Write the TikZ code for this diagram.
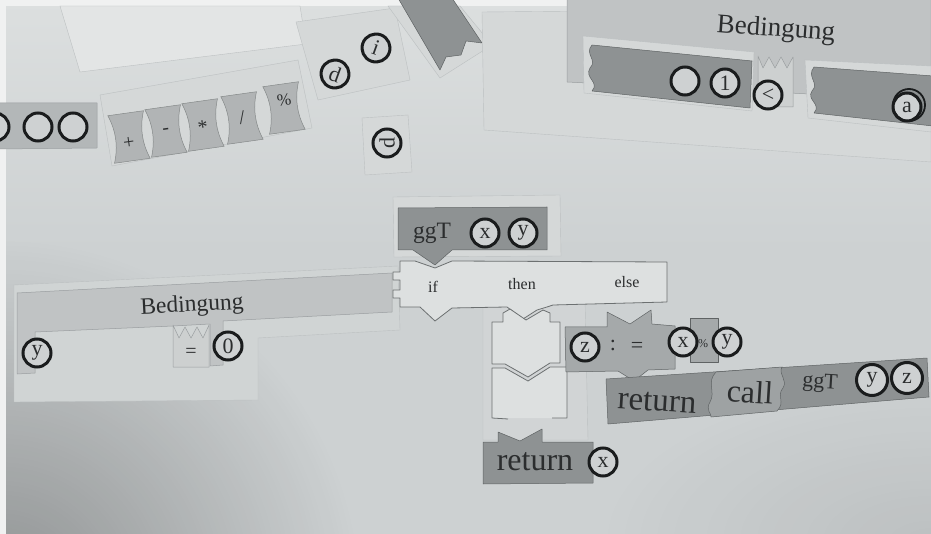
\documentclass[tikz,border=0pt]{standalone}
\usepackage{fontspec}
\setmainfont{Liberation Serif}
\usetikzlibrary{fadings}

\definecolor{bgbase}{HTML}{CDD1D2}
\definecolor{bgtop}{HTML}{DCDFDF}
\definecolor{bgedge}{HTML}{F0F1F1}
\definecolor{paperfill}{HTML}{D5D8D8}
\definecolor{paperedge}{HTML}{BCC0C1}
\definecolor{darkgrey}{HTML}{8E9293}
\definecolor{darkedge}{HTML}{5F6364}
\definecolor{midgrey}{HTML}{A5A9AA}
\definecolor{lightgrey}{HTML}{C0C3C4}
\definecolor{lightedge}{HTML}{9A9EA0}
\definecolor{cmpfill}{HTML}{CDD0D0}
\definecolor{barleft}{HTML}{B3B7B8}
\definecolor{opgrey}{HTML}{B1B4B5}
\definecolor{opedge}{HTML}{858989}
\definecolor{slotfill}{HTML}{DDE0E0}
\definecolor{slotline}{HTML}{6C7071}
\definecolor{callgrey}{HTML}{9EA2A3}
\definecolor{tokenfill}{HTML}{CED1D2}
\definecolor{tokenline}{HTML}{1A1C1D}
\definecolor{ink}{HTML}{2B2D2E}

\tikzfading[name=cornerglow, inner color=transparent!0, outer color=transparent!100]

\begin{document}
\begin{tikzpicture}[x=1pt,y=-1pt,
  token/.style={circle, draw=tokenline, line width=3pt, fill=tokenfill,
    minimum size=28pt, inner sep=0pt, text=ink, font=\fontsize{22}{22}\selectfont},
  darkpiece/.style={fill=darkgrey, draw=darkedge, line width=0.5pt, line join=round},
  midpiece/.style={fill=midgrey, draw=darkedge, line width=0.5pt, line join=round},
  lightpiece/.style={fill=lightgrey, draw=lightedge, line width=0.5pt, line join=round},
  slotbox/.style={fill=slotfill, draw=slotline, line width=0.8pt, line join=round},
  paper/.style={fill=paperfill, draw=paperedge, line width=0.4pt},
  ptext/.style={inner sep=0pt, text=ink},
  hourglass/.pic={
    \path[fill=opgrey, draw=opedge, line width=0.5pt]
      (-18,-24) -- (18,-24) .. controls (12,-8) and (12,8) .. (18,24)
      -- (-18,24) .. controls (-12,8) and (-12,-8) .. (-18,-24) -- cycle;
  },
]
\useasboundingbox (0,0) rectangle (931,534);

% ---- table surface ----
\fill[bgbase] (0,0) rectangle (931,534);
\shade[top color=bgtop, bottom color=bgbase] (0,0) rectangle (931,250);
\begin{scope}
  \clip (0,0) rectangle (931,534);
  \fill[black, opacity=0.30, path fading=cornerglow] (-360,240) rectangle (360,960);
  \fill[black, opacity=0.08, path fading=cornerglow] (600,380) rectangle (1260,700);
\end{scope}
\fill[bgedge] (0,0) rectangle (931,6);
\fill[bgedge] (0,0) rectangle (6,534);

% ---- loose paper cut-outs ----
\path[paper, fill=bgtop!80!white] (60,6) -- (300,6) -- (306,44) -- (80,72) -- cycle;
\path[paper] (100,95) -- (298,60) -- (312,128) -- (112,166) -- cycle;
\path[paper] (296,22) -- (395,8) -- (410,80) -- (318,100) -- cycle;
\path[paper] (362,118) -- (408,115) -- (412,172) -- (365,175) -- cycle;
\path[paper] (388,6) -- (460,6) -- (492,45) -- (440,78) -- cycle;
\path[paper] (482,12) -- (931,8) -- (931,162) -- (484,130) -- cycle;
\path[paper, fill=bgbase!60!paperfill] (14,285) -- (398,266) -- (400,330) -- (258,338) -- (258,400) -- (14,402) -- cycle;
\path[paper, fill=bgbase!50!paperfill] (483,300) -- (585,298) -- (588,440) -- (483,440) -- cycle;

% ---- top-left token bar ----
\path[lightpiece, fill=barleft] (-2,103) -- (97,103) -- (97,148) -- (-2,149) -- cycle;
\node[token] (tl0) at (-5,127) {};
\node[token] (tl1) at (38,127) {};
\node[token] (tl2) at (73,127) {};

% ---- operator pieces ----
\pic[rotate=8] at (129,137) {hourglass};
\pic[rotate=8] at (166,131) {hourglass};
\pic[rotate=8] at (203,125) {hourglass};
\pic[rotate=8] at (242,118) {hourglass};
\pic[rotate=8] at (284,108) {hourglass};
\node[ptext, rotate=8, font=\fontsize{20}{20}\selectfont] (opplus) at (129,143) {+};
\node[ptext, rotate=8, font=\fontsize{20}{20}\selectfont] (opminus) at (166,131) {-};
\node[ptext, rotate=8, font=\fontsize{20}{20}\selectfont] (optimes) at (203,127) {*};
\node[ptext, rotate=8, font=\fontsize{20}{20}\selectfont] (opdiv) at (242,118) {/};
\node[ptext, rotate=8, font=\fontsize{17}{17}\selectfont] (opmod) at (284,100) {\%};

% ---- single letter tokens ----
\node[token, rotate=-20] (tokd) at (335,74) {d};
\node[token, rotate=-20] (toki) at (376,48) {i};
\node[token, rotate=90] (tokp) at (387,143) {d};

% ---- dark strip at the top edge ----
\path[darkpiece] (398,-2) -- (452,-2) -- (482,43) -- (466,41) -- (461,55) -- (446,57) -- (440,70) -- cycle;

% ---- upper Bedingung block ----
\path[lightpiece] (567,-2) -- (931,-2) -- (931,100) -- (567,82) -- cycle;
\node[ptext, rotate=-4, font=\fontsize{27}{27}\selectfont] (bedtop) at (776,30) {Bedingung};
\path[paper] (583,36) -- (754,52) -- (752,111) -- (584,93) -- cycle;
\path[darkpiece] (592,45) -- (752,61) -- (750,108) -- (592,91)
  .. controls (600,82) and (584,78) .. (590,68)
  .. controls (598,60) and (584,54) .. (592,45) -- cycle;
\node[token] (tokempty) at (685,81) {};
\node[token] (tokone) at (725,83) {1};
\path[lightpiece, fill=cmpfill] (758,56) -- (763,68) -- (769,57) -- (775,68) -- (781,57)
  -- (787,68) -- (793,57) -- (793,107) -- (758,107) -- cycle;
\node[token] (toklt) at (768,95) {<};
\path[paper] (805,60) -- (931,66) -- (931,132) -- (808,118) -- cycle;
\path[darkpiece] (814,67) -- (933,76) -- (933,126) -- (814,113)
  .. controls (822,104) and (806,100) .. (812,91)
  .. controls (820,83) and (806,77) .. (814,67) -- cycle;
\node[token] (toka) at (907,107) {a};
\draw[tokenline, line width=1.8pt] (toka.center) ++(2,-2) circle[radius=16];

% ---- lower Bedingung block ----
\path[lightpiece] (17,293) -- (392,273) -- (392,312) -- (223,321) -- (223,365) -- (210,366)
  -- (210,324) -- (173,326) -- (35,332) -- (35,373) -- (17,374) -- cycle;
\node[ptext, rotate=3, font=\fontsize{23.5}{23.5}\selectfont] (bedleft) at (192,306) {Bedingung};
\path[lightpiece, fill=cmpfill] (173,325) -- (179,338) -- (185,327) -- (191,338) -- (197,327)
  -- (203,338) -- (209,325) -- (209,367) -- (173,367) -- cycle;
\node[ptext, font=\fontsize{20}{20}\selectfont] (eqsign) at (191,353) {=};
\node[token] (toky) at (37,353) {y};
\node[token] (tokzero) at (228,346) {0};

% ---- if / then / else frame ----
\path[slotbox] (400,261) -- (415,261) -- (435,268) -- (452,261) -- (667,262) -- (667,302)
  -- (553,305) -- (547,307) -- (537,310) -- (523,319) -- (507,307) -- (452,308)
  -- (435,321) -- (420,307) -- (400,307) -- (400,298) -- (393,298) -- (393,290)
  -- (400,290) -- (400,280) -- (393,280) -- (393,272) -- (400,272) -- cycle;
\node[ptext, font=\fontsize{16}{16}\selectfont] (kwif) at (433,287) {if};
\node[ptext, font=\fontsize{16}{16}\selectfont] (kwthen) at (522,284) {then};
\node[ptext, font=\fontsize{16}{16}\selectfont] (kwelse) at (627,282) {else};

% ---- function head ----
\path[paper] (393,197) -- (560,195) -- (561,256) -- (394,257) -- cycle;
\path[darkpiece] (398,208) -- (547,207) -- (547,250) -- (452,250) -- (435,265) -- (413,250)
  -- (398,250) -- cycle;
\node[ptext, font=\fontsize{23.5}{23.5}\selectfont] (ggthead) at (432,233) {ggT};
\node[token] (headx) at (485,233) {x};
\node[token] (heady) at (523,233) {y};

% ---- empty statement slots under then ----
\path[slotbox] (492,322) -- (503,322) -- (503,313) -- (510,309) -- (526,320) -- (543,310)
  -- (550,313) -- (550,322) -- (560,322) -- (560,363) -- (550,363) -- (528,377)
  -- (505,364) -- (492,364) -- cycle;
\path[fill=slotfill] (492,368) -- (505,368) -- (528,381) -- (550,367) -- (567,367)
  -- (567,418) -- (492,418) -- cycle;
\draw[slotline, line width=0.8pt, line join=round] (508,419) -- (492,418) -- (492,368)
  -- (505,368) -- (528,381) -- (550,367) -- (567,367) -- (567,418) -- (552,418);

% ---- assignment z := x % y ----
\path[midpiece] (565,327) -- (607,327) -- (607,312) -- (630,324) -- (651,310) -- (652,324)
  -- (675,326) -- (675,369) -- (648,370) -- (634,381) -- (618,371) -- (566,372) -- cycle;
\node[token] (asgz) at (585,347) {z};
\node[ptext, font=\fontsize{22}{22}\selectfont] (asgcolon) at (613,345) {:};
\node[ptext, font=\fontsize{22}{22}\selectfont] (asgeq) at (637,347) {=};
\path[midpiece] (690,318) -- (718,318) -- (718,362) -- (690,362) -- cycle;
\node[token] (asgx) at (683,342) {x};
\node[ptext, font=\fontsize{12}{12}\selectfont] (asgmod) at (703,344) {\%};
\node[token] (asgy) at (727,342) {y};

% ---- return call ggT y z ----
\path[darkpiece] (606,379) -- (927,358) -- (929,397) -- (608,424) -- cycle;
\path[fill=callgrey, draw=darkedge, line width=0.5pt]
  (716,372) .. controls (706,382) and (716,392) .. (710,402)
  .. controls (705,410) and (712,414) .. (711,417)
  -- (777,411) .. controls (786,402) and (776,396) .. (783,388)
  .. controls (788,380) and (778,374) .. (782,367) -- cycle;
\node[ptext, rotate=-3.5, font=\fontsize{33}{33}\selectfont] (retcall) at (657,402) {return};
\node[ptext, rotate=-3.5, font=\fontsize{32}{32}\selectfont] (kwcall) at (750,392) {call};
\node[ptext, rotate=-3.5, font=\fontsize{22}{22}\selectfont] (ggtcall) at (820,383) {ggT};
\node[token, minimum size=31pt] (cally) at (872,380) {y};
\node[token, minimum size=31pt] (callz) at (907,378) {z};

% ---- return x ----
\path[darkpiece] (483,442) -- (498,442) -- (498,432) -- (520,441) -- (542,429) -- (542,442)
  -- (593,442) -- (593,483) -- (483,484) -- cycle;
\node[ptext, font=\fontsize{32}{32}\selectfont] (retx) at (535,462) {return};
\node[token] (retxtok) at (603,462) {x};

\end{tikzpicture}
\end{document}
